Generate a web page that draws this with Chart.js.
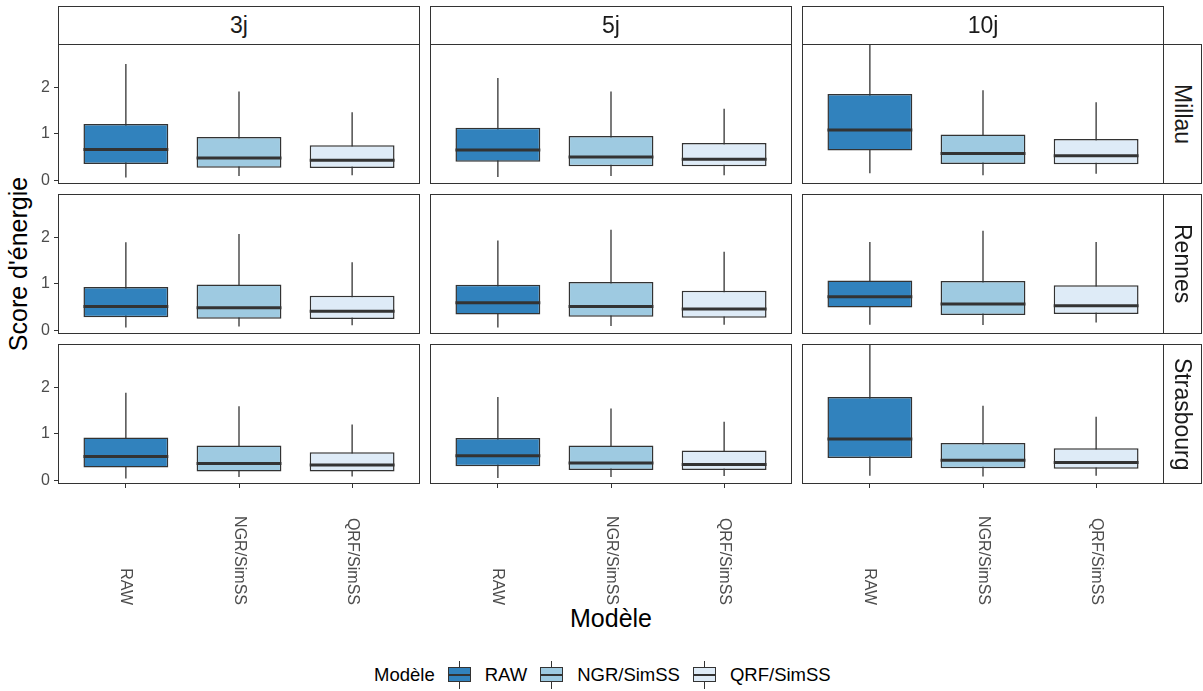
<!DOCTYPE html>
<html>
<head>
<meta charset="utf-8">
<script src="https://cdn.jsdelivr.net/npm/chart.js@4.4.1/dist/chart.umd.min.js"></script>
<style>
body { margin: 0; background: #fff; font-family: "Liberation Sans", Arial, sans-serif; }
#fig { position: relative; width: 1203px; height: 691px; overflow: hidden; background: #fff; }
.holder { position: absolute; }
.strip { position: absolute; box-sizing: border-box; border: 1px solid #333; background: #fff;
         display: flex; align-items: center; justify-content: center; font-size: 23px; color: #1a1a1a; }
.strip.side span { writing-mode: vertical-rl; }
.title { position: absolute; text-align: center; font-size: 25px; color: #000; white-space: nowrap; }
#legend { position: absolute; left: 374px; top: 661px; height: 28px; display: flex; align-items: center;
          font-size: 18.5px; color: #000; white-space: nowrap; }
.key { position: relative; width: 23px; height: 28px; }
.key .wk { position: absolute; left: 11px; top: 0; width: 1.3px; height: 28px; background: #333; }
.key .bx { position: absolute; left: 0; top: 6px; width: 23px; height: 15px; box-sizing: border-box; border: 1.5px solid #333; }
.key .md { position: absolute; left: 0; top: 12.5px; width: 23px; height: 2.2px; background: #333; }
</style>
</head>
<body>
<div id="fig">
  <div class="title" style="left:-132px; top:249px; width:300px; height:30px; line-height:30px; transform:rotate(-90deg);">Score d'énergie</div>
  <div class="title" style="left:461px; top:604px; width:300px; height:29px; line-height:29px;">Modèle</div>
  <div id="legend"></div>
</div>
<script>
var models = ["RAW", "NGR/SimSS", "QRF/SimSS"];
var leads = ["3j", "5j", "10j"];
var sites = ["Millau", "Rennes", "Strasbourg"];
var fills = ["#3182BD", "#9ECAE1", "#DEEBF7"];
var yTicks = [0, 1, 2];

// [site][lead][model]
var whiskerLow = [
    [[0.06, 0.09, 0.11], [0.07, 0.09, 0.11], [0.15, 0.11, 0.14]],
    [[0.06, 0.08, 0.11], [0.06, 0.09, 0.12], [0.12, 0.115, 0.165]],
    [[0.04, 0.07, 0.08], [0.05, 0.07, 0.09], [0.10, 0.08, 0.10]]
];
var q1 = [
    [[0.35, 0.27, 0.265], [0.40, 0.30, 0.30], [0.64, 0.35, 0.345]],
    [[0.28, 0.25, 0.245], [0.34, 0.29, 0.27], [0.49, 0.33, 0.35]],
    [[0.275, 0.19, 0.19], [0.30, 0.22, 0.22], [0.48, 0.26, 0.25]]
];
var median = [
    [[0.66, 0.48, 0.43], [0.65, 0.50, 0.45], [1.08, 0.575, 0.525]],
    [[0.51, 0.485, 0.41], [0.59, 0.51, 0.46], [0.72, 0.565, 0.53]],
    [[0.51, 0.36, 0.33], [0.53, 0.37, 0.34], [0.89, 0.43, 0.38]]
];
var q3 = [
    [[1.21, 0.93, 0.755], [1.13, 0.95, 0.80], [1.855, 0.985, 0.885]],
    [[0.93, 0.985, 0.74], [0.98, 1.04, 0.85], [1.07, 1.06, 0.97]],
    [[0.92, 0.75, 0.60], [0.91, 0.75, 0.64], [1.79, 0.80, 0.69]]
];
var whiskerHigh = [
    [[2.50, 1.91, 1.46], [2.20, 1.91, 1.54], [2.93, 1.935, 1.68]],
    [[1.89, 2.07, 1.46], [1.93, 2.16, 1.69], [1.90, 2.14, 1.90]],
    [[1.88, 1.59, 1.20], [1.79, 1.545, 1.26], [2.92, 1.60, 1.365]]
];

var FONT = '"Liberation Sans", Arial, sans-serif';
var colLeft = [58, 430, 802];
var rowTop = [44, 194, 344];
var panelW = 362, panelH = 140, pad = 16, xAxisH = 130;
var fig = document.getElementById("fig");

// whiskers behind the boxes, medians + panel frame on top
var boxParts = {
    id: "boxParts",
    beforeDatasetsDraw: function(chart){
        var st = chart.data.datasets[0].stats;
        var ys = chart.scales.y, ctx = chart.ctx;
        var meta = chart.getDatasetMeta(0);
        ctx.save();
        ctx.strokeStyle = "#333333";
        ctx.lineWidth = 1.3;
        meta.data.forEach(function(el, i){
            ctx.beginPath();
            ctx.moveTo(el.x, ys.getPixelForValue(st.lo[i]));
            ctx.lineTo(el.x, ys.getPixelForValue(st.hi[i]));
            ctx.stroke();
        });
        ctx.restore();
    },
    afterDatasetsDraw: function(chart){
        var st = chart.data.datasets[0].stats;
        var ys = chart.scales.y, ctx = chart.ctx;
        var meta = chart.getDatasetMeta(0);
        ctx.save();
        ctx.strokeStyle = "#333333";
        ctx.lineWidth = 3;
        meta.data.forEach(function(el, i){
            var y = ys.getPixelForValue(st.med[i]);
            ctx.beginPath();
            ctx.moveTo(el.x - el.width / 2, y);
            ctx.lineTo(el.x + el.width / 2, y);
            ctx.stroke();
        });
        ctx.restore();
    },
    afterDraw: function(chart){
        var a = chart.chartArea, ctx = chart.ctx;
        ctx.save();
        ctx.strokeStyle = "#333333";
        ctx.lineWidth = 1;
        ctx.strokeRect(a.left + 0.5, a.top + 0.5, a.right - a.left - 1, a.bottom - a.top - 1);
        if (chart.data.datasets[0].showNames){
            var xs = chart.scales.x;
            ctx.font = "16px " + FONT;
            ctx.fillStyle = "#4D4D4D";
            ctx.textAlign = "right";
            ctx.textBaseline = "middle";
            models.forEach(function(m, k){
                ctx.save();
                ctx.translate(xs.getPixelForValue(k + 1), a.bottom + 121);
                ctx.rotate(Math.PI / 2);
                ctx.fillText(m, 0, 0);
                ctx.restore();
            });
        }
        ctx.restore();
    }
};

function makePanel(r, c){
    var left = c === 0 ? 0 : colLeft[c];
    var width = c === 0 ? colLeft[0] + panelW : panelW;
    var bottomPad = r === 2 ? 0 : pad;
    var height = pad + panelH + (r === 2 ? xAxisH : pad);

    var holder = document.createElement("div");
    holder.className = "holder";
    holder.style.left = left + "px";
    holder.style.top = (rowTop[r] - pad) + "px";
    var canvas = document.createElement("canvas");
    canvas.width = width;
    canvas.height = height;
    holder.appendChild(canvas);
    fig.appendChild(holder);

    var data = models.map(function(m, k){
        return {x: k + 1, y: [q1[r][c][k], q3[r][c][k]]};
    });

    new Chart(canvas, {
        type: "bar",
        data: {
            datasets: [{
                data: data,
                backgroundColor: fills,
                borderColor: "#333333",
                borderWidth: 1.5,
                borderSkipped: false,
                categoryPercentage: 1,
                barPercentage: 0.75,
                stats: {lo: whiskerLow[r][c], med: median[r][c], hi: whiskerHigh[r][c]},
                showNames: r === 2
            }]
        },
        options: {
            responsive: false,
            animation: false,
            layout: {padding: {top: pad, bottom: bottomPad, left: 0, right: 0}},
            plugins: {legend: {display: false}, tooltip: {enabled: false}},
            scales: {
                x: {
                    type: "linear",
                    display: r === 2,
                    min: 0.4,
                    max: 3.6,
                    offset: false,
                    afterBuildTicks: function(s){ s.ticks = models.map(function(m, k){ return {value: k + 1}; }); },
                    afterFit: function(s){ s.height = r === 2 ? xAxisH : 0; },
                    grid: {display: true, drawOnChartArea: false, drawTicks: true, tickLength: 4, color: "#333333", offset: false},
                    border: {display: false},
                    ticks: {display: false}
                },
                y: {
                    display: c === 0,
                    min: -0.08,
                    max: 2.93,
                    afterBuildTicks: function(s){ s.ticks = yTicks.map(function(v){ return {value: v}; }); },
                    afterFit: function(s){ s.width = c === 0 ? colLeft[0] : 0; },
                    grid: {display: true, drawOnChartArea: false, drawTicks: true, tickLength: 4, color: "#333333"},
                    border: {display: false},
                    ticks: {color: "#4D4D4D", font: {size: 16, family: FONT}, padding: 4}
                }
            }
        },
        plugins: [boxParts]
    });
}

sites.forEach(function(site, r){
    leads.forEach(function(lead, c){
        makePanel(r, c);
    });
});

// facet strips
leads.forEach(function(lead, c){
    var d = document.createElement("div");
    d.className = "strip";
    d.style.left = colLeft[c] + "px";
    d.style.top = "6px";
    d.style.width = panelW + "px";
    d.style.height = "39px";
    d.textContent = lead;
    fig.appendChild(d);
});
sites.forEach(function(site, r){
    var d = document.createElement("div");
    d.className = "strip side";
    d.style.left = (colLeft[2] + panelW - 1) + "px";
    d.style.top = rowTop[r] + "px";
    d.style.width = "39px";
    d.style.height = panelH + "px";
    var s = document.createElement("span");
    s.textContent = site;
    d.appendChild(s);
    fig.appendChild(d);
});

// legend
var legend = document.getElementById("legend");
var lt = document.createElement("span");
lt.textContent = "Modèle";
lt.style.marginRight = "13px";
legend.appendChild(lt);
models.forEach(function(m, k){
    var key = document.createElement("div");
    key.className = "key";
    key.innerHTML = '<div class="wk"></div><div class="bx" style="background:' + fills[k] + '"></div><div class="md"></div>';
    legend.appendChild(key);
    var t = document.createElement("span");
    t.textContent = m;
    t.style.marginLeft = "14px";
    t.style.marginRight = "13px";
    legend.appendChild(t);
});
</script>
</body>
</html>
